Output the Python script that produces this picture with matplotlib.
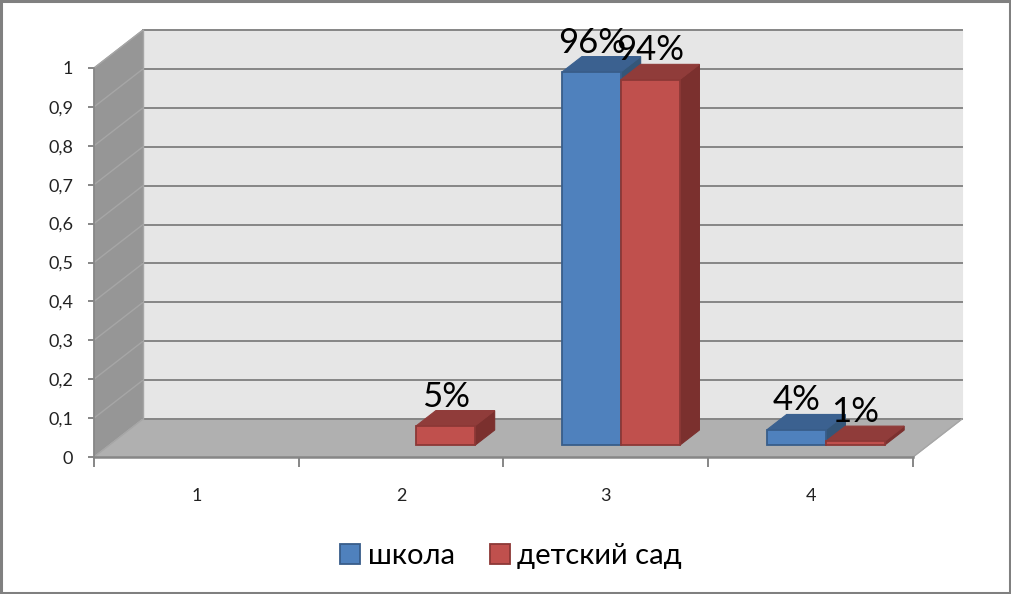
"""3D-style column chart (школа / детский сад) drawn with plain matplotlib polygons."""

import matplotlib
matplotlib.use('Agg')
import matplotlib.pyplot as plt
from matplotlib.patches import Patch, Polygon, Rectangle

# ==============================================
# DATA
# ==============================================
categories = ['1', '2', '3', '4']
school = [0, 0, 0.96, 0.04]
kindergarten = [0, 0.05, 0.94, 0.01]
school_labels = ['', '', '96%', '4%']
kindergarten_labels = ['', '5%', '94%', '1%']
y_ticks = [0, 0.1, 0.2, 0.3, 0.4, 0.5, 0.6, 0.7, 0.8, 0.9, 1]
y_tick_labels = ['0', '0,1', '0,2', '0,3', '0,4', '0,5', '0,6', '0,7', '0,8', '0,9', '1']

# ==============================================
# STYLE / GEOMETRY
# ==============================================
W, H = 1012, 594
LEFT, RIGHT, BOTTOM, TOP = 94, 913, 457, 68  # front plane in pixels

# depth of the box, in data units
DX = 49 / ((RIGHT - LEFT) / 4)
DY = 38 / (BOTTOM - TOP)
BAR_W = 0.287
BAR_START = 0.31  # where the bars start inside the depth
BAR_DEPTH = 0.40

WALL = '#E6E6E6'
SIDE = '#969696'
FLOOR = '#B0B0B0'
GRID = '#868686'
TEXT = '#000000'
BLUE = dict(front='#4F81BD', top='#3B6190', side='#345679', edge='#385D8A')
RED = dict(front='#C0504D', top='#903C3A', side='#7B302E', edge='#8C3836')

plt.rcParams['font.family'] = ['Lato', 'Open Sans', 'DejaVu Sans']

fig = plt.figure(figsize=(W / 100, H / 100), dpi=100)
ax = fig.add_axes([LEFT / W, 1 - BOTTOM / H, (RIGHT - LEFT) / W, (BOTTOM - TOP) / H])
ax.set_xlim(0, len(categories))
ax.set_ylim(0, 1)
ax.patch.set_visible(False)
for s in ax.spines.values():
    s.set_visible(False)

# outer frame
fig.add_artist(Rectangle((1.2 / W, 1.5 / H), 1 - 3.6 / W, 1 - 2.8 / H, transform=fig.transFigure,
                         fill=False, edgecolor='#808080', linewidth=2.2))


def poly(points, color, edge=None, z=1, lw=0.8):
    ax.add_patch(Polygon(points, closed=True, facecolor=color, edgecolor=edge or color,
                         linewidth=lw, zorder=z, clip_on=False))


# ==============================================
# BOX: back wall, side wall, floor, grid
# ==============================================
n = len(categories)
poly([(DX, DY), (n + DX, DY), (n + DX, 1 + DY), (DX, 1 + DY)], WALL, z=1)
poly([(0, 0), (DX, DY), (DX, 1 + DY), (0, 1)], SIDE, z=1)
poly([(0, 0), (n, 0), (n + DX, DY), (DX, DY)], FLOOR, z=1)

for t in y_ticks:
    ax.plot([DX, n + DX], [t + DY, t + DY], color=GRID, lw=1.4, zorder=2, clip_on=False)
    ax.plot([0, DX], [t, t + DY], color='#A6A6A6', lw=1.0, zorder=2, clip_on=False)
ax.plot([DX, DX], [DY, 1 + DY], color='#A6A6A6', lw=1.0, zorder=2, clip_on=False)
ax.plot([0, n], [0, 0], color=GRID, lw=1.8, zorder=3, clip_on=False)
ax.plot([0, 0], [0, 1], color=GRID, lw=1.2, zorder=3, clip_on=False)
ax.plot([n, n + DX], [0, DY], color='#A6A6A6', lw=1.0, zorder=2, clip_on=False)


# ==============================================
# BARS
# ==============================================
def bar3d(x0, value, colors, z):
    x1 = x0 + BAR_W
    sx, sy = DX * BAR_START, DY * BAR_START
    dx, dy = DX * BAR_DEPTH, DY * BAR_DEPTH
    a, b = x0 + sx, x1 + sx
    poly([(b, sy), (b + dx, sy + dy), (b + dx, sy + dy + value), (b, sy + value)],
         colors['side'], colors['side'], z)
    poly([(a, sy + value), (b, sy + value), (b + dx, sy + dy + value), (a + dx, sy + dy + value)],
         colors['top'], colors['top'], z)
    poly([(a, sy), (b, sy), (b, sy + value), (a, sy + value)],
         colors['front'], colors['edge'], z + 0.1, lw=1.3)


for i in range(n):
    centre = i + 0.5
    if school[i] > 0:
        bar3d(centre - BAR_W, school[i], BLUE, 4)
    if kindergarten[i] > 0:
        bar3d(centre, kindergarten[i], RED, 5)

# value labels, about 30 px above the front top edge of each bar
for i in range(n):
    centre = i + 0.5 + DX * BAR_START
    sy = DY * BAR_START
    if school_labels[i]:
        ax.annotate(school_labels[i], (centre - BAR_W / 2, school[i] + sy), xytext=(0, 21),
                    textcoords='offset points', ha='center', va='center',
                    fontsize=25, color=TEXT, zorder=10, annotation_clip=False)
    if kindergarten_labels[i]:
        ax.annotate(kindergarten_labels[i], (centre + BAR_W / 2, kindergarten[i] + sy), xytext=(0, 21),
                    textcoords='offset points', ha='center', va='center',
                    fontsize=25, color=TEXT, zorder=10, annotation_clip=False)

# ==============================================
# AXES
# ==============================================
ax.set_yticks(y_ticks)
ax.set_yticklabels(y_tick_labels, fontsize=13, color='#222222')
ax.tick_params(axis='y', length=4, width=1.4, color=GRID, pad=11)

ax.set_xticks(range(n + 1))
ax.set_xticklabels([''] * (n + 1))
ax.tick_params(axis='x', which='major', length=7, width=1.4, color=GRID)
ax.set_xticks([i + 0.5 for i in range(n)], minor=True)
ax.set_xticklabels(categories, minor=True, fontsize=13, color='#222222')
ax.tick_params(axis='x', which='minor', length=0, pad=22)

# ==============================================
# LEGEND
# ==============================================
handles = [Patch(facecolor=BLUE['front'], edgecolor=BLUE['edge'], linewidth=1.3, label='школа'),
           Patch(facecolor=RED['front'], edgecolor=RED['edge'], linewidth=1.3, label='детский сад')]
fig.legend(handles=handles, loc='center', bbox_to_anchor=(511 / W, 1 - 556 / H), ncol=2,
           frameon=False, fontsize=21, handlelength=0.7, handleheight=0.7,
           handletextpad=0.25, columnspacing=1.2, labelcolor=TEXT)

fig.savefig('out.png', dpi=100, facecolor='white')
